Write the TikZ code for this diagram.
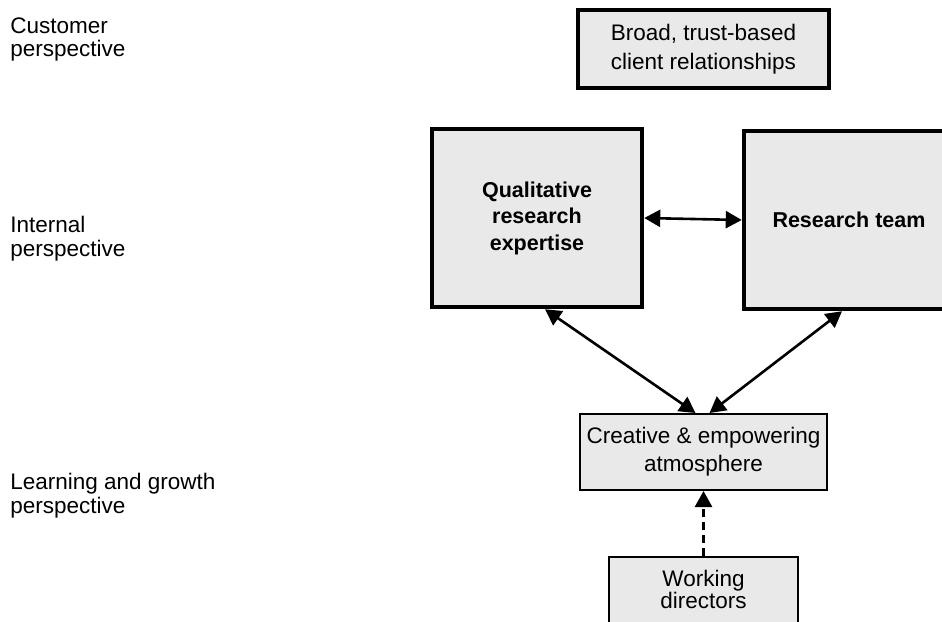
\documentclass[tikz,border=0pt]{standalone}
\usepackage{fontspec}
\setmainfont{Liberation Sans}
\usetikzlibrary{arrows.meta}
\definecolor{boxfill}{RGB}{233,233,233}

\begin{document}
\begin{tikzpicture}[x=1pt, y=-1pt, >={Triangle[length=16pt, width=17pt]}, line width=2.6pt,
    box/.style={draw, fill=boxfill, align=center, inner sep=0pt, font=\fontsize{22.5}{28}\selectfont},
    heavy/.style={box, line width=4.5pt},
    light/.style={box, line width=2pt},
    persp/.style={anchor=north west, align=left, inner sep=0pt, font=\fontsize{22.5}{23.5}\selectfont}]
    \useasboundingbox (0,0) rectangle (942,621);
    \clip (0,0) rectangle (942,621);

    % Perspectives
    \node[persp] (customer) at (9,16) {Customer\\perspective};
    \node[persp] (internal) at (9,215) {Internal\\perspective};
    \node[persp] (learning) at (9,472) {Learning and growth\\perspective};

    % Boxes
    \node[heavy, minimum width=251, minimum height=78, font=\fontsize{22.5}{29}\selectfont] (broad) at (703.5,49) {Broad, trust-based\\client relationships};
    \node[heavy, minimum width=210, minimum height=178, font=\fontsize{21.5}{26.5}\selectfont\bfseries] (qual) at (537,218) {Qualitative\\research\\expertise};
    \node[heavy, minimum width=210, minimum height=178, font=\fontsize{21.5}{26.5}\selectfont\bfseries] (team) at (849,220) {Research team};
    \node[light, minimum width=247, minimum height=76] (creative) at (703.5,452) {Creative \& empowering\\atmosphere};
    \node[light, anchor=north, minimum width=189, inner ysep=13pt, font=\fontsize{22.5}{20}\selectfont] (directors) at (703.5,556)
        {\parbox[t][70pt][t]{180pt}{\centering Working\\directors}};

    % Links
    \draw[<->] (qual.east) -- (team.west);
    \draw[<->] ([xshift=8pt]qual.south) -- ([xshift=-8pt]creative.north);
    \draw[<->] ([xshift=-7pt]team.south) -- ([xshift=6pt]creative.north);
    \draw[->, dash pattern=on 8pt off 5pt] (directors.north) -- (creative.south);

\end{tikzpicture}
\end{document}
